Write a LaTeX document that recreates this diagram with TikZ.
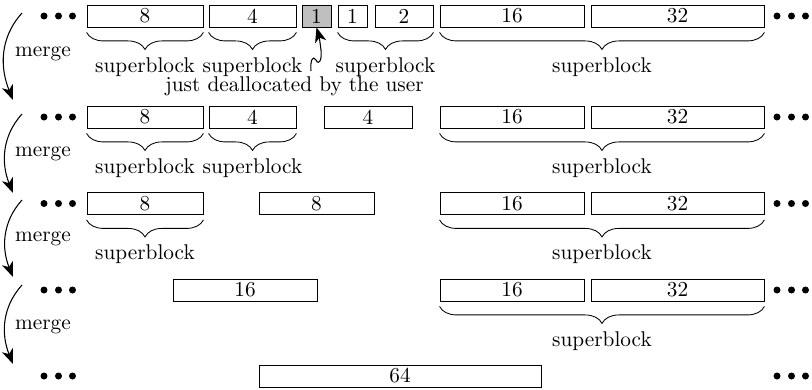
\documentclass[tikz,border=0pt]{standalone}
\usetikzlibrary{arrows.meta,decorations.pathreplacing}

% one unit = one pixel of the layout grid
\newcommand\unitpx{0.4695pt}

\tikzset{
  blk/.style={draw, inner sep=0pt, minimum height=10.3pt, anchor=center},
  freed/.style={blk, fill=gray!50},
  sbrace/.style={decorate, decoration={brace, mirror, amplitude=8pt}},
  sblabel/.style={below=11.5pt, inner sep=0pt, midway},
  mergearrow/.style={-{Stealth[length=7pt,width=5.4pt,inset=2pt]}, line width=0.5pt},
  mergelabel/.style={anchor=base, inner sep=0pt},
}

% \blk{name}{left}{right}{row centre}{text}{style}
\newcommand\blk[6]{%
  \node[#6, minimum width={(#3-#2)*\unitpx}] (#1) at ({(#2+#3)/2},{-#4}) {#5};}

% three dots on each side of a row
\newcommand\rowdots[1]{%
  \foreach \dx in {44,58.5,72.5,777,791.5,805.5}
    \fill (\dx,{-#1}) circle (3.5);}

% a superblock brace under boxes a..b
\newcommand\superblock[2]{%
  \draw[sbrace] ([yshift=-2.35pt]#1.south west) -- ([yshift=-2.35pt]#2.south east)
    node[sblabel] {superblock};}

\begin{document}
\begin{tikzpicture}[x=\unitpx, y=\unitpx]
\useasboundingbox (0,0) rectangle (812,-390);

% ---------- row 1 ----------
\rowdots{16}
\blk{a8}{87}{203}{16}{8}{blk}
\blk{a4}{209}{296}{16}{4}{blk}
\blk{aF}{302}{331}{16}{1}{freed}
\blk{a1}{338}{367}{16}{1}{blk}
\blk{a2}{375}{433}{16}{2}{blk}
\blk{a16}{440}{584}{16}{16}{blk}
\blk{a32}{591}{764}{16}{32}{blk}
\superblock{a8}{a8}
\superblock{a4}{a4}
\superblock{a1}{a2}
\superblock{a16}{a32}
\node[inner sep=0pt] (user) at (294.5,-86) {just deallocated by the user};
\coordinate (squig) at (311,-71);
\draw[mergearrow] (squig)
  .. controls (310,-60) and (313,-55) .. (316,-60)
  .. controls (319,-66) and (322,-60) .. (321,-50)
  .. controls (320,-42) and (319,-36) .. (aF.south);

% ---------- row 2 ----------
\rowdots{117}
\blk{b8}{87}{203}{117}{8}{blk}
\blk{b4}{209}{296}{117}{4}{blk}
\blk{b4m}{324}{412}{117}{4}{blk}
\blk{b16}{440}{584}{117}{16}{blk}
\blk{b32}{591}{764}{117}{32}{blk}
\superblock{b8}{b8}
\superblock{b4}{b4}
\superblock{b16}{b32}

% ---------- row 3 ----------
\rowdots{203.5}
\blk{c8}{87}{203}{203.5}{8}{blk}
\blk{c8m}{259}{374}{203.5}{8}{blk}
\blk{c16}{440}{584}{203.5}{16}{blk}
\blk{c32}{591}{764}{203.5}{32}{blk}
\superblock{c8}{c8}
\superblock{c16}{c32}

% ---------- row 4 ----------
\rowdots{290}
\blk{d16m}{173}{317}{290}{16}{blk}
\blk{d16}{440}{584}{290}{16}{blk}
\blk{d32}{591}{764}{290}{32}{blk}
\superblock{d16}{d32}

% ---------- row 5 ----------
\rowdots{376}
\blk{e64}{259}{541}{376}{64}{blk}

% ---------- merge steps ----------
\coordinate (m1s) at (22,-13);  \coordinate (m1e) at (13,-100);
\coordinate (m2s) at (22,-114); \coordinate (m2e) at (13,-193);
\coordinate (m3s) at (22,-200); \coordinate (m3e) at (13,-277);
\coordinate (m4s) at (22,-285); \coordinate (m4e) at (13,-364);
\foreach \i in {1,...,4}
  \draw[mergearrow] (m\i s) to[out=228, in=112] (m\i e);
\node[mergelabel] (g1) at (43,-56.5) {merge};
\node[mergelabel] (g2) at (43,-156.5) {merge};
\node[mergelabel] (g3) at (43,-241.5) {merge};
\node[mergelabel] (g4) at (43,-329.5) {merge};
\end{tikzpicture}
\end{document}
